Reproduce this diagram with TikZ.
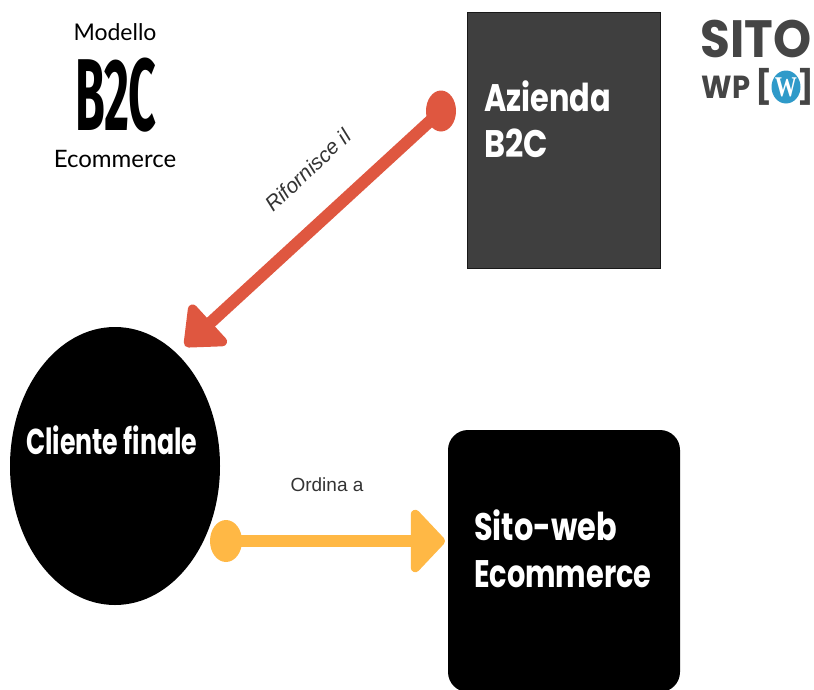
\documentclass[tikz,border=0pt]{standalone}
\usepackage{fontspec}
\usetikzlibrary{arrows.meta,shapes.geometric}
\setmainfont{Lato}
\newfontfamily\headfont{Poppins}
\newfontfamily\condfont{Fira Sans}
\newfontfamily\labelfont{Liberation Sans}
\newfontfamily\wfont{Liberation Serif}
\definecolor{redc}{HTML}{DF5740}
\definecolor{yelc}{HTML}{FFB845}
\definecolor{grayc}{HTML}{3F3F3F}
\definecolor{logoc}{HTML}{454545}
\definecolor{wpblue}{HTML}{2F9AC9}
\tikzset{
  every node/.style={inner sep=0pt,outer sep=0pt},
  dotnode/.style={ellipse,minimum width=#1*2pt,minimum height=41pt},
  bigtext/.style={text=white,align=left,anchor=west,font=\headfont\bfseries},
  capt/.style={font=\fontsize{24}{24}\selectfont,text=black},
  conlabel/.style={font=\labelfont\fontsize{19}{19}\selectfont,text=black!80},
}
\begin{document}
\begin{tikzpicture}[x=1pt,y=-1pt]
\useasboundingbox (0,0) rectangle (814,689);
% boxes
\node[draw=black!60!grayc,line width=1pt,fill=grayc,minimum width=193pt,minimum height=256pt,anchor=north west] (azienda) at (467,12) {};
\node[fill=black,rounded corners=20pt,minimum width=232pt,minimum height=262pt,anchor=north west] (sito) at (448,430) {};
\node[ellipse,fill=black,minimum width=210pt,minimum height=278pt] (cliente) at (115,466) {};
% box text
\node[bigtext] (azt1) at (484,96) {\scalebox{0.95}[1.2]{\fontsize{32}{32}\selectfont Azienda}};
\node[bigtext] (azt2) at (484,143) {\scalebox{1.0}[1.2]{\fontsize{32}{32}\selectfont B2C}};
\node[bigtext] (st1) at (474,525) {\scalebox{0.95}[1.2]{\fontsize{32}{32}\selectfont Sito-web}};
\node[bigtext] (st2) at (474,574) {\scalebox{0.9}[1.2]{\fontsize{32}{32}\selectfont Ecommerce}};
\node[bigtext] (cl) at (26,440) {\scalebox{0.84}[1.2]{\fontsize{30}{30}\selectfont Cliente finale}};
% title
\node[capt,font=\fontsize{23}{23}\selectfont] (mod) at (115,32) {Modello};
\node[font=\condfont\bfseries\fontsize{78}{78}\selectfont,text=black] (b2c) at (116,95) {\scalebox{0.62}[1.31]{B2C}};
\node[capt] (eco) at (115,159) {Ecommerce};
% connectors
\node[dotnode=15,fill=redc] (rd) at (441,111) {};
\coordinate (rtip) at (185,346);
\draw[redc,line width=12pt,-{Triangle[length=38pt,width=62pt,round]}] (rd.center) -- (rtip);
\node[conlabel,rotate=43,font=\labelfont\fontsize{21}{21}\selectfont] (rl) at (308,170) {\textit{Rifornisce il}};
\node[dotnode=16,fill=yelc,minimum height=42pt] (yd) at (226,541) {};
\draw[yelc,line width=12pt,-{Triangle[length=36pt,width=74pt,round]}] (yd.center) -- ([xshift=-3pt]sito.west |- yd.center);
\node[conlabel] (ol) at (327,485) {Ordina a};
% logo
\node[font=\headfont\bfseries\fontsize{50}{50}\selectfont,text=logoc] (lsito) at (756,39) {\scalebox{0.97}[1.05]{SITO}};
\node[font=\headfont\bfseries\fontsize{29}{29}\selectfont,text=logoc] (lwp) at (726,87) {\scalebox{1}[1.1]{WP}};
\node[font=\headfont\bfseries\fontsize{33}{33}\selectfont,text=logoc] (lb1) at (764,87) {[};
\node[font=\headfont\bfseries\fontsize{33}{33}\selectfont,text=logoc] (lb2) at (806,87) {]};
\node[ellipse,fill=wpblue,minimum width=29pt,minimum height=33pt] (wpc) at (786,87) {};
\node[font=\wfont\bfseries\fontsize{26}{26}\selectfont,text=white] (wpw) at (786,87) {\scalebox{0.85}[1.1]{W}};
\end{tikzpicture}
\end{document}
